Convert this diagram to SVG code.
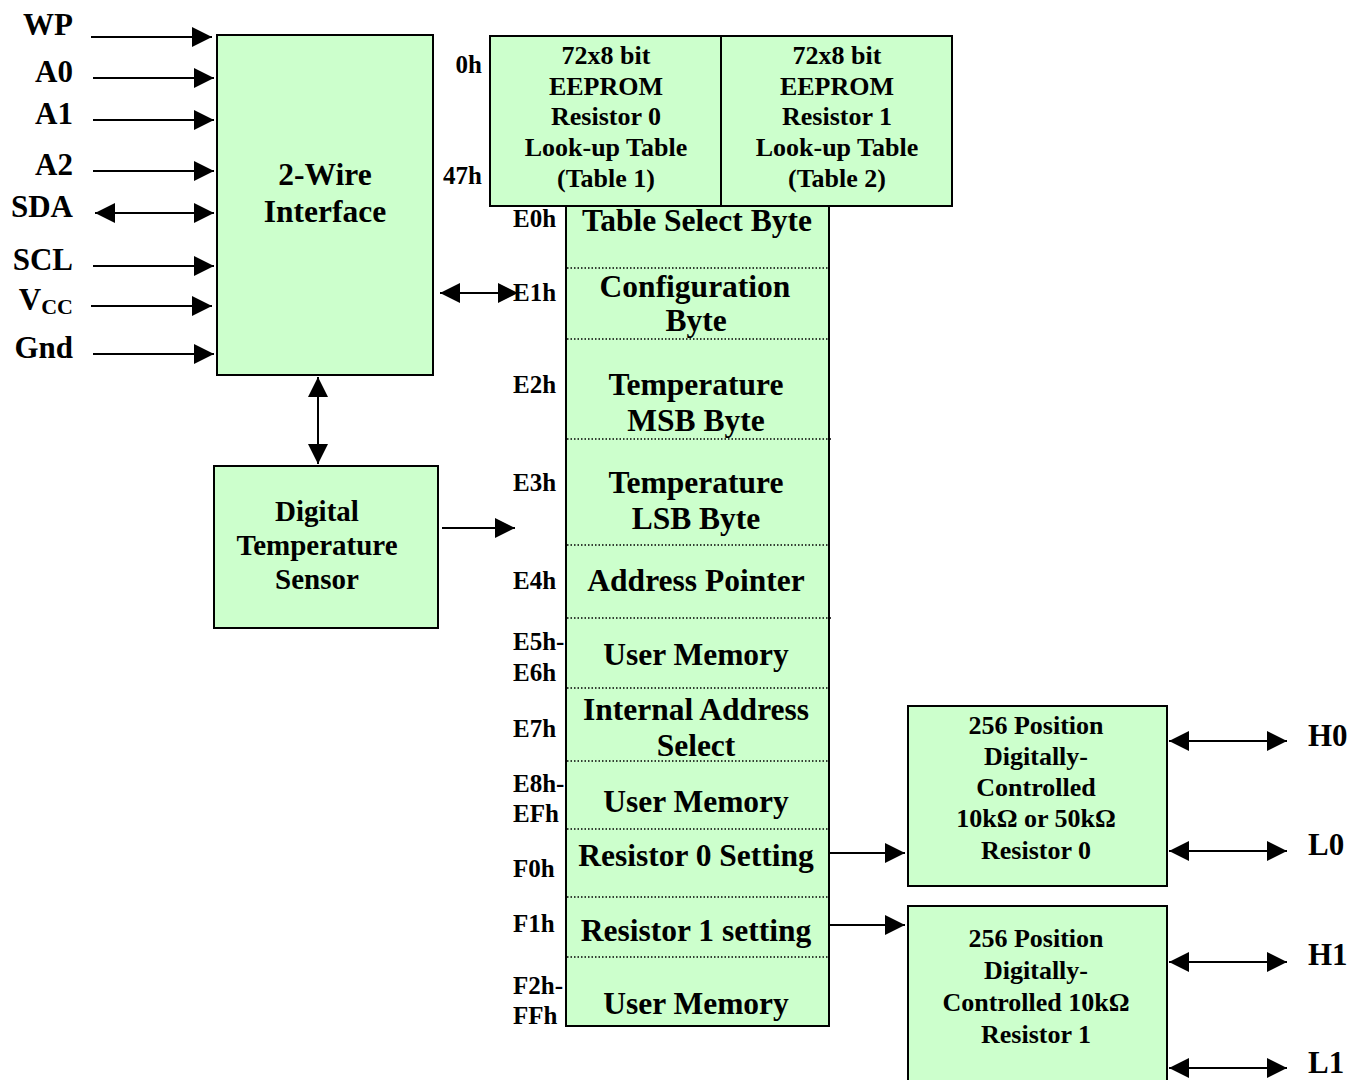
<svg xmlns="http://www.w3.org/2000/svg" width="1351" height="1080" viewBox="0 0 1351 1080">
<style>
.box{fill:#CCFFCC;stroke:#000;stroke-width:2}
.t{font-family:"Liberation Serif","Times New Roman",serif;font-weight:bold;fill:#000}
.c{text-anchor:middle}
.e{text-anchor:end}
.lbl{font-size:31px}
.mem{font-size:31.5px}
.addr{font-size:25px}
.sm{font-size:26px}
.sep{stroke:#000;stroke-width:1.5;stroke-dasharray:1.5 2;fill:none}
.ln{stroke:#000;stroke-width:2;fill:none}
.a1{marker-end:url(#ah)}
.a2{marker-start:url(#ah);marker-end:url(#ah)}
</style>
<defs>
<marker id="ah" markerUnits="userSpaceOnUse" markerWidth="20" markerHeight="20" refX="20" refY="10" orient="auto-start-reverse" viewBox="0 0 20 20">
<path d="M0,0 L20,10 L0,20 z" fill="#000"/>
</marker>
</defs>
<rect width="1351" height="1080" fill="#fff"/>

<g id="pins">
<text class="t lbl e" x="73" y="35">WP</text>
<text class="t lbl e" x="73" y="82">A0</text>
<text class="t lbl e" x="73" y="124">A1</text>
<text class="t lbl e" x="73" y="175">A2</text>
<text class="t lbl e" x="73" y="217">SDA</text>
<text class="t lbl e" x="73" y="270">SCL</text>
<text class="t lbl e" x="73" y="310">V<tspan font-size="22" dy="4">CC</tspan></text>
<text class="t lbl e" x="73" y="358">Gnd</text>
</g>

<g id="interface">
<rect class="box" x="217" y="35" width="216" height="340"/>
<text class="t mem c" x="325" y="185">2-Wire</text>
<text class="t mem c" x="325" y="222">Interface</text>
</g>

<g id="sensor">
<rect class="box" x="214" y="466" width="224" height="162"/>
<text class="t c" font-size="29" x="317" y="521">Digital</text>
<text class="t c" font-size="29" x="317" y="555">Temperature</text>
<text class="t c" font-size="29" x="317" y="589">Sensor</text>
</g>

<g id="eeprom0">
<rect class="box" x="490" y="36" width="231" height="170"/>
<text class="t sm c" x="606" y="64">72x8 bit</text>
<text class="t sm c" x="606" y="95">EEPROM</text>
<text class="t sm c" x="606" y="125">Resistor 0</text>
<text class="t sm c" x="606" y="156">Look-up Table</text>
<text class="t sm c" x="606" y="187">(Table 1)</text>
</g>
<g id="eeprom1">
<rect class="box" x="721" y="36" width="231" height="170"/>
<text class="t sm c" x="837" y="64">72x8 bit</text>
<text class="t sm c" x="837" y="95">EEPROM</text>
<text class="t sm c" x="837" y="125">Resistor 1</text>
<text class="t sm c" x="837" y="156">Look-up Table</text>
<text class="t sm c" x="837" y="187">(Table 2)</text>
</g>
<g id="eeprom-addr">
<text class="t addr e" x="482" y="73">0h</text>
<text class="t addr e" x="482" y="184">47h</text>
</g>

<g id="memory">
<rect class="box" x="566" y="206" width="263" height="820"/>
<line class="sep" x1="567" y1="268" x2="829" y2="268"/>
<line class="sep" x1="567" y1="339" x2="829" y2="339"/>
<line class="sep" x1="567" y1="439" x2="833" y2="439"/>
<line class="sep" x1="567" y1="545" x2="829" y2="545"/>
<line class="sep" x1="567" y1="618" x2="833" y2="618"/>
<line class="sep" x1="567" y1="688" x2="829" y2="688"/>
<line class="sep" x1="567" y1="761" x2="829" y2="761"/>
<line class="sep" x1="567" y1="829" x2="829" y2="829"/>
<line class="sep" x1="567" y1="897" x2="829" y2="897"/>
<line class="sep" x1="567" y1="957" x2="829" y2="957"/>
<text class="t mem c" x="697" y="231">Table Select Byte</text>
<text class="t mem c" x="695" y="297">Configuration</text>
<text class="t mem c" x="696" y="331">Byte</text>
<text class="t mem c" x="696" y="395">Temperature</text>
<text class="t mem c" x="696" y="431">MSB Byte</text>
<text class="t mem c" x="696" y="493">Temperature</text>
<text class="t mem c" x="696" y="529">LSB Byte</text>
<text class="t mem c" x="696" y="591">Address Pointer</text>
<text class="t mem c" x="696" y="665">User Memory</text>
<text class="t mem c" x="696" y="720">Internal Address</text>
<text class="t mem c" x="696" y="756">Select</text>
<text class="t mem c" x="696" y="812">User Memory</text>
<text class="t mem c" x="696" y="866">Resistor 0 Setting</text>
<text class="t mem c" x="696" y="941">Resistor 1 setting</text>
<text class="t mem c" x="696" y="1014">User Memory</text>
</g>

<g id="memory-addr">
<text class="t addr" x="513" y="227">E0h</text>
<text class="t addr" x="513" y="301">E1h</text>
<text class="t addr" x="513" y="393">E2h</text>
<text class="t addr" x="513" y="491">E3h</text>
<text class="t addr" x="513" y="589">E4h</text>
<text class="t addr" x="513" y="650">E5h-</text>
<text class="t addr" x="513" y="681">E6h</text>
<text class="t addr" x="513" y="737">E7h</text>
<text class="t addr" x="513" y="792">E8h-</text>
<text class="t addr" x="513" y="822">EFh</text>
<text class="t addr" x="513" y="877">F0h</text>
<text class="t addr" x="513" y="932">F1h</text>
<text class="t addr" x="513" y="994">F2h-</text>
<text class="t addr" x="513" y="1024">FFh</text>
</g>

<g id="res0">
<rect class="box" x="908" y="706" width="259" height="180"/>
<text class="t sm c" x="1036" y="734">256 Position</text>
<text class="t sm c" x="1036" y="765">Digitally-</text>
<text class="t sm c" x="1036" y="796">Controlled</text>
<text class="t sm c" x="1036" y="827">10kΩ or 50kΩ</text>
<text class="t sm c" x="1036" y="859">Resistor 0</text>
</g>
<g id="res1">
<rect class="box" x="908" y="906" width="259" height="180"/>
<text class="t sm c" x="1036" y="947">256 Position</text>
<text class="t sm c" x="1036" y="979">Digitally-</text>
<text class="t sm c" x="1036" y="1011">Controlled 10kΩ</text>
<text class="t sm c" x="1036" y="1043">Resistor 1</text>
</g>
<g id="res-pins">
<text class="t lbl" x="1308" y="746">H0</text>
<text class="t lbl" x="1308" y="855">L0</text>
<text class="t lbl" x="1308" y="965">H1</text>
<text class="t lbl" x="1308" y="1073">L1</text>
</g>

<g id="connectors">
<line class="ln a1" x1="91" y1="37" x2="212" y2="37"/>
<line class="ln a1" x1="93" y1="78" x2="214" y2="78"/>
<line class="ln a1" x1="93" y1="120" x2="214" y2="120"/>
<line class="ln a1" x1="93" y1="171" x2="214" y2="171"/>
<line class="ln a2" x1="95" y1="213" x2="214" y2="213"/>
<line class="ln a1" x1="93" y1="266" x2="214" y2="266"/>
<line class="ln a1" x1="91" y1="306" x2="212" y2="306"/>
<line class="ln a1" x1="93" y1="354" x2="214" y2="354"/>
<line class="ln a2" x1="440" y1="293" x2="518" y2="293"/>
<line class="ln a2" x1="318" y1="377" x2="318" y2="464"/>
<line class="ln a1" x1="442" y1="528" x2="515" y2="528"/>
<line class="ln a1" x1="830" y1="853" x2="905" y2="853"/>
<line class="ln a1" x1="830" y1="925" x2="905" y2="925"/>
<line class="ln a2" x1="1169" y1="741" x2="1287" y2="741"/>
<line class="ln a2" x1="1169" y1="851" x2="1287" y2="851"/>
<line class="ln a2" x1="1169" y1="962" x2="1287" y2="962"/>
<line class="ln a2" x1="1169" y1="1068" x2="1287" y2="1068"/>
</g>
</svg>
